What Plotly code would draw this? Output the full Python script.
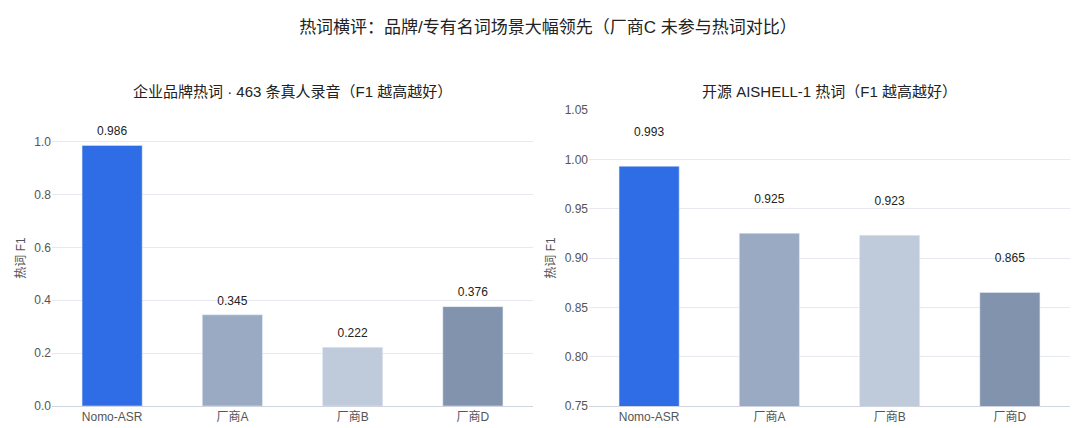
import plotly.graph_objects as go
from plotly.subplots import make_subplots

vendors = ["Nomo-ASR", "厂商A", "厂商B", "厂商D"]
brand_f1 = [0.986, 0.345, 0.222, 0.376]
aishell_f1 = [0.993, 0.925, 0.923, 0.865]
colors = ["#2f6de6", "#9aaac2", "#bfcadb", "#8294ad"]

fig = make_subplots(rows=1, cols=2, horizontal_spacing=0.055,
                    subplot_titles=["企业品牌热词 · 463 条真人录音（F1 越高越好）",
                                    "开源 AISHELL-1 热词（F1 越高越好）"])

for col, vals, off in [(1, brand_f1, 0.05), (2, aishell_f1, 0.034)]:
    fig.add_trace(go.Bar(x=vendors, y=vals, marker_color=colors, width=0.5,
                         showlegend=False, hoverinfo="skip"), row=1, col=col)
    fig.add_trace(go.Scatter(x=vendors, y=[v + off for v in vals], mode="text",
                             text=[f"{v:.3f}" for v in vals],
                             textfont=dict(size=12, color="#222"),
                             showlegend=False, hoverinfo="skip"), row=1, col=col)

fig.update_yaxes(range=[0, 1.12], tickvals=[0, 0.2, 0.4, 0.6, 0.8, 1.0],
                 tickformat=".1f", row=1, col=1)
fig.update_yaxes(range=[0.75, 1.05], dtick=0.05, tickformat=".2f", row=1, col=2)
fig.update_yaxes(title=dict(text="热词 F1", font=dict(size=12, color="#555"), standoff=6),
                 gridcolor="#e6e9ef", zeroline=False, showline=False,
                 tickfont=dict(size=12, color="#555"))
fig.update_xaxes(showline=True, linecolor="#cfd5df", tickfont=dict(size=12, color="#555"))

for a in fig.layout.annotations:
    a.font = dict(size=15, color="#222")
    a.yshift = 8

fig.update_layout(
    width=1080, height=428,
    title=dict(text="热词横评：品牌/专有名词场景大幅领先（厂商C 未参与热词对比）",
               x=0.5, y=0.97, xanchor="center", font=dict(size=17, color="#222")),
    font=dict(family="Liberation Sans, Noto Sans CJK SC, sans-serif"),
    plot_bgcolor="white", paper_bgcolor="white",
    margin=dict(l=38, r=18, t=102, b=28),
)

fig.write_html("out.html")
